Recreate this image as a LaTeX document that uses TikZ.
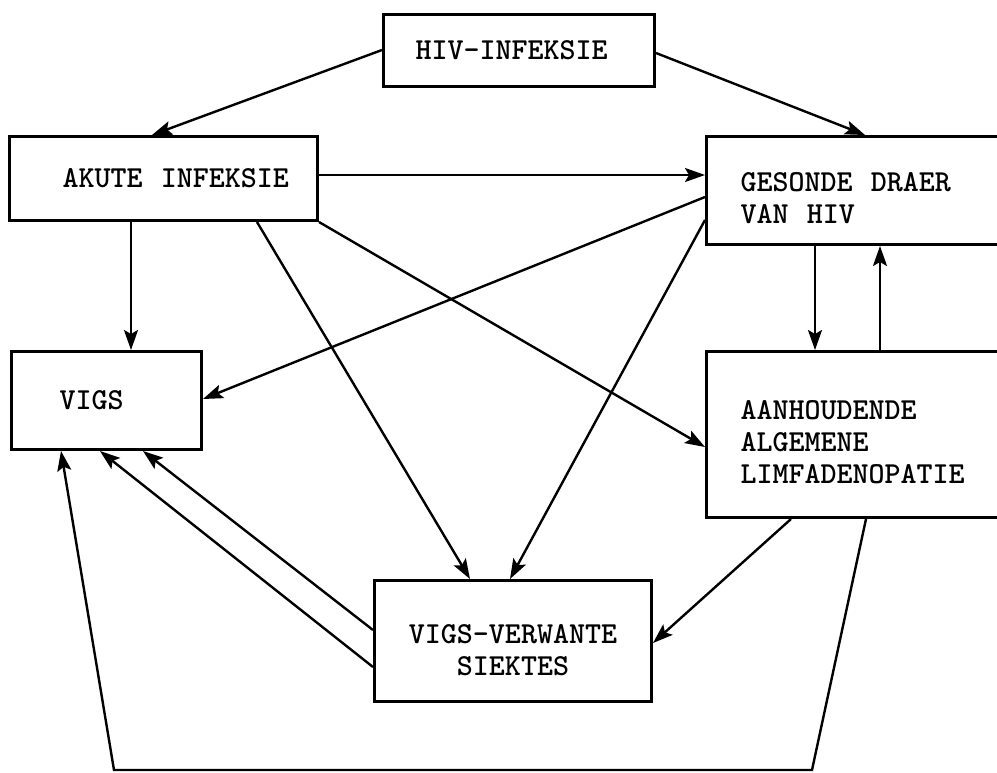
\documentclass[tikz,border=0pt]{standalone}
\usepackage{fontspec}
\usetikzlibrary{arrows.meta,calc}
\begin{document}
\begin{tikzpicture}[x=1pt,y=-1pt,
  box/.style={draw, line width=3pt, anchor=north west, inner xsep=0pt, inner ysep=0pt,
    align=left, font=\ttfamily\bfseries\fontsize{30.5}{32}\selectfont},
  arr/.style={line width=2.4pt, -{Stealth[length=20pt,width=14pt,inset=4pt]}}]
\clip (0,0) rectangle (997,772);
\fill[white] (0,0) rectangle (997,772);
% boxes
\node[box, text width=271pt, minimum height=72pt] (hiv) at (382,13) {\hspace*{32pt}HIV-INFEKSIE};
\node[box, text width=308pt, minimum height=84pt] (akute) at (8,135) {\hspace*{53pt}AKUTE\hspace{0.6em}INFEKSIE};
\node[box, text width=300pt, minimum height=108pt] (gesonde) at (705,135)
  {\rule{0pt}{34pt}\hspace*{34pt}GESONDE\hspace{0.6em}DRAER\\\hspace*{34pt}VAN\hspace{0.6em}HIV};
\node[box, text width=190pt, minimum height=98pt] (vigs) at (10,350) {\hspace*{48pt}VIGS};
\node[box, text width=300pt, minimum height=166pt] (aal) at (705,350)
  {\rule{0pt}{34pt}\hspace*{34pt}AANHOUDENDE\\\hspace*{34pt}ALGEMENE\\\hspace*{34pt}LIMFADENOPATIE};
\node[box, text width=277pt, minimum height=121pt, align=center] (vv) at (373,579)
  {\rule{0pt}{38pt}VIGS-VERWANTE\\SIEKTES};
% free corner points of the bottom loop
\coordinate (lr) at (812,770);
\coordinate (ll) at (114,770);
% connectors
\draw[arr] ($(hiv.north west)+(0,37)$) -- ($(akute.north west)+(144,0)$);
\draw[arr] ($(hiv.north east)+(0,40)$) -- ($(gesonde.north west)+(160,0)$);
\draw[arr] ($(akute.north east)+(0,40)$) -- ($(gesonde.north west)+(0,40)$);
\draw[arr] ($(akute.south west)+(123,0)$) -- ($(vigs.north west)+(121,0)$);
\draw[arr] ($(akute.south west)+(249,0)$) -- ($(vv.north west)+(97,0)$);
\draw[arr] (akute.south east) -- ($(aal.north west)+(0,97)$);
\draw[arr] ($(gesonde.north west)+(0,62)$) -- ($(vigs.north east)+(0,49)$);
\draw[arr] ($(gesonde.north west)+(0,85)$) -- ($(vv.north west)+(137,0)$);
\draw[arr] ($(gesonde.south west)+(110,0)$) -- ($(aal.north west)+(110,0)$);
\draw[arr] ($(aal.north west)+(175,0)$) -- ($(gesonde.south west)+(175,0)$);
\draw[arr] ($(aal.south west)+(86,0)$) -- ($(vv.north east)+(0,64)$);
\draw[arr] ($(vv.north west)+(0,51)$) -- ($(vigs.south west)+(133,0)$);
\draw[arr] ($(vv.north west)+(0,88)$) -- ($(vigs.south west)+(90,0)$);
\draw[arr] ($(aal.south west)+(161,0)$) -- (lr) -- (ll) -- ($(vigs.south west)+(51,0)$);
\end{tikzpicture}
\end{document}
